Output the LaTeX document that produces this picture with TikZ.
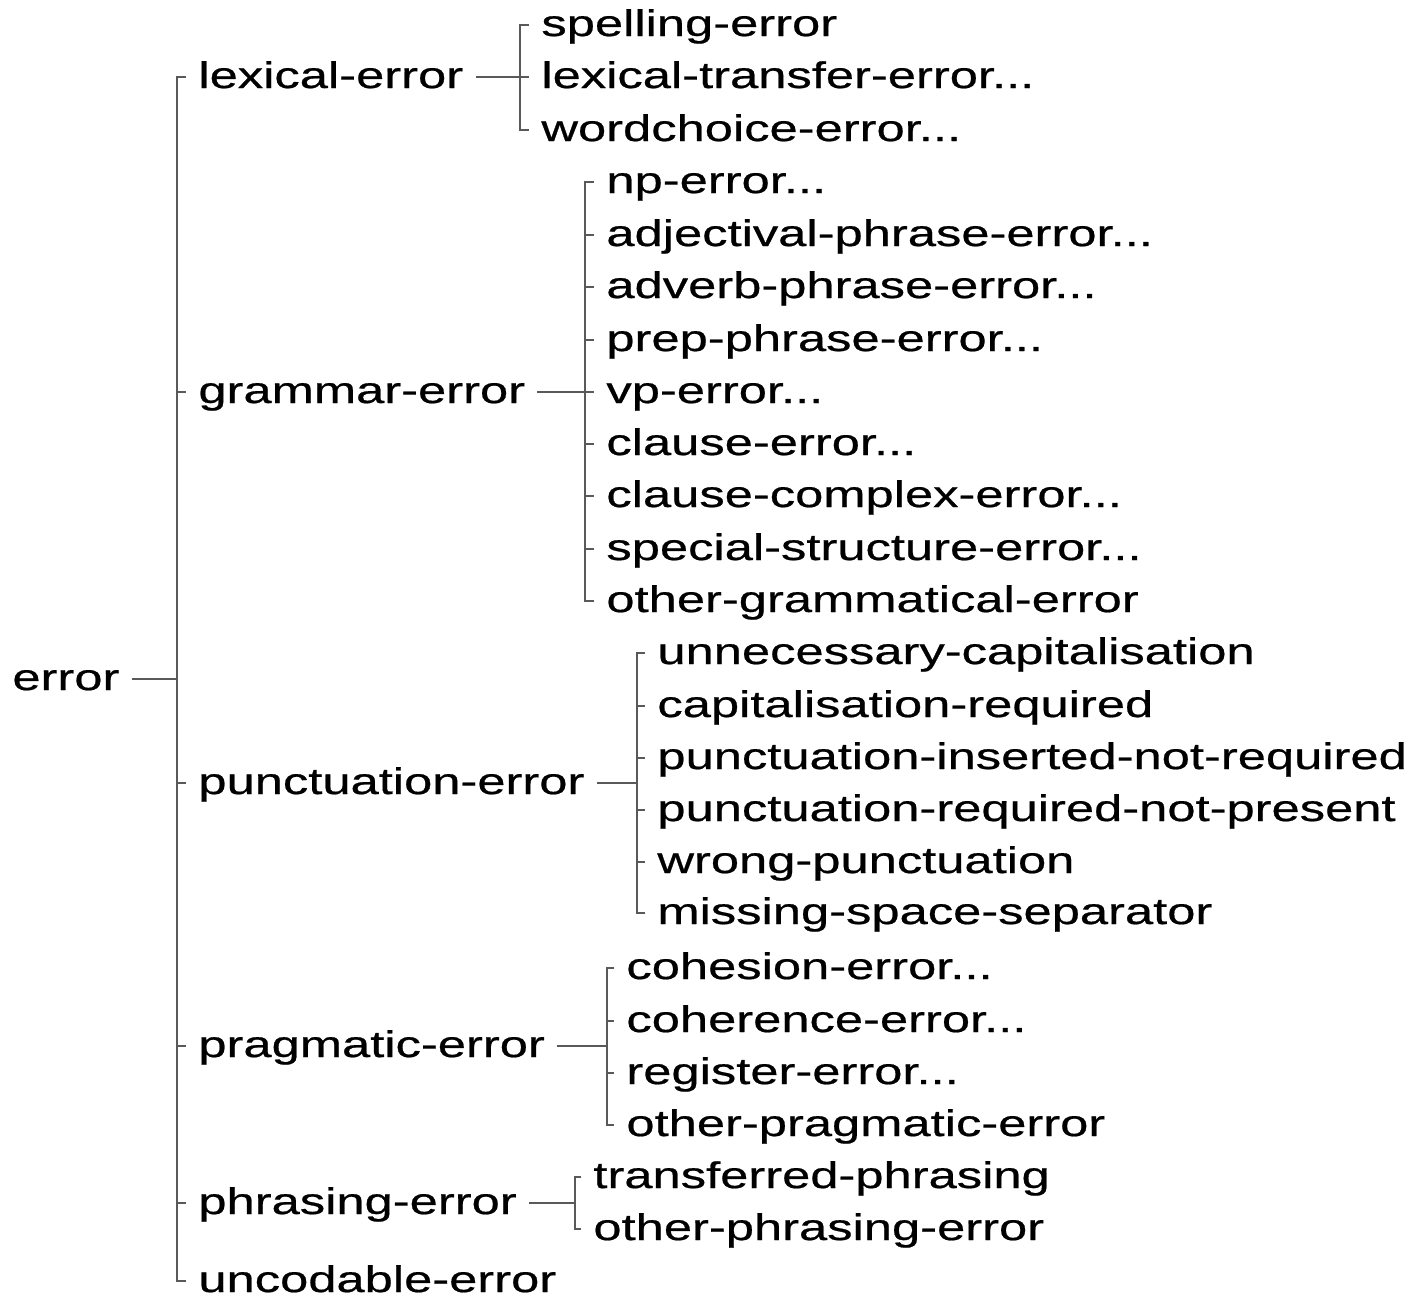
\documentclass[tikz,border=0pt]{standalone}
\usepackage{fontspec}
\setmainfont{Liberation Sans}[FakeStretch=1.37, FakeBold=0.6]
\begin{document}
\begin{tikzpicture}[
        x=0.5pt, y=-0.5pt,
        term/.style={font=\fontsize{18.5pt}{22pt}\selectfont, inner xsep=6pt, inner ysep=0pt,
            text height=15pt, text depth=4pt, anchor=west},
        link/.style={draw=black!65, line width=0.6pt}
    ]
        \useasboundingbox (0,0) rectangle (1411,1297);

        % Root
        \node[term] (err) at (0,679) {error};

        % First level
        \node[term] (lex) at (186,77) {lexical-error};
        \node[term] (gram) at (186,392) {grammar-error};
        \node[term] (punct) at (186,783) {punctuation-error};
        \node[term] (prag) at (186,1046) {pragmatic-error};
        \node[term] (phras) at (186,1203) {phrasing-error};
        \node[term] (uncod) at (186,1281) {uncodable-error};

        % Lexical children
        \node[term] (spell) at (529,25) {spelling-error};
        \node[term] (ltrans) at (529,77) {lexical-transfer-error...};
        \node[term] (wchoice) at (529,130) {wordchoice-error...};

        % Grammar children
        \node[term] (np) at (594,182) {np-error...};
        \node[term] (adj) at (594,235) {adjectival-phrase-error...};
        \node[term] (adv) at (594,287) {adverb-phrase-error...};
        \node[term] (prep) at (594,340) {prep-phrase-error...};
        \node[term] (vp) at (594,392) {vp-error...};
        \node[term] (cls) at (594,444) {clause-error...};
        \node[term] (clscx) at (594,496) {clause-complex-error...};
        \node[term] (spec) at (594,549) {special-structure-error...};
        \node[term] (ogram) at (594,601) {other-grammatical-error};

        % Punctuation children
        \node[term] (uncap) at (645,653) {unnecessary-capitalisation};
        \node[term] (capreq) at (645,706) {capitalisation-required};
        \node[term] (pins) at (645,758) {punctuation-inserted-not-required};
        \node[term] (preq) at (645,810) {punctuation-required-not-present};
        \node[term] (wrong) at (645,862) {wrong-punctuation};
        \node[term] (space) at (645,913) {missing-space-separator};

        % Pragmatic children
        \node[term] (cohes) at (614,968) {cohesion-error...};
        \node[term] (coher) at (614,1021) {coherence-error...};
        \node[term] (regis) at (614,1073) {register-error...};
        \node[term] (oprag) at (614,1125) {other-pragmatic-error};

        % Phrasing children
        \node[term] (trans) at (581,1177) {transferred-phrasing};
        \node[term] (ophras) at (581,1229) {other-phrasing-error};

        % Branch points
        \coordinate (errbus) at (177,679);
        \coordinate (lexbus) at (520,77);
        \coordinate (grambus) at (585,392);
        \coordinate (punctbus) at (637,783);
        \coordinate (pragbus) at (607,1046);
        \coordinate (phrasbus) at (575,1203);

        % Root branches
        \draw[link] (err.east) -- (errbus);
        \draw[link] (lex.west) -| (errbus) |- (uncod.west);
        \foreach \kid in {gram, punct, prag, phras}
            \draw[link] (errbus |- \kid.west) -- (\kid.west);

        % Lexical branches
        \draw[link] (lex.east) -- (lexbus);
        \draw[link] (spell.west) -| (lexbus) |- (wchoice.west);
        \draw[link] (lexbus |- ltrans.west) -- (ltrans.west);

        % Grammar branches
        \draw[link] (gram.east) -- (grambus);
        \draw[link] (np.west) -| (grambus) |- (ogram.west);
        \foreach \kid in {adj, adv, prep, vp, cls, clscx, spec}
            \draw[link] (grambus |- \kid.west) -- (\kid.west);

        % Punctuation branches
        \draw[link] (punct.east) -- (punctbus);
        \draw[link] (uncap.west) -| (punctbus) |- (space.west);
        \foreach \kid in {capreq, pins, preq, wrong}
            \draw[link] (punctbus |- \kid.west) -- (\kid.west);

        % Pragmatic branches
        \draw[link] (prag.east) -- (pragbus);
        \draw[link] (cohes.west) -| (pragbus) |- (oprag.west);
        \foreach \kid in {coher, regis}
            \draw[link] (pragbus |- \kid.west) -- (\kid.west);

        % Phrasing branches
        \draw[link] (phras.east) -- (phrasbus);
        \draw[link] (trans.west) -| (phrasbus) |- (ophras.west);

    \end{tikzpicture}
\end{document}
